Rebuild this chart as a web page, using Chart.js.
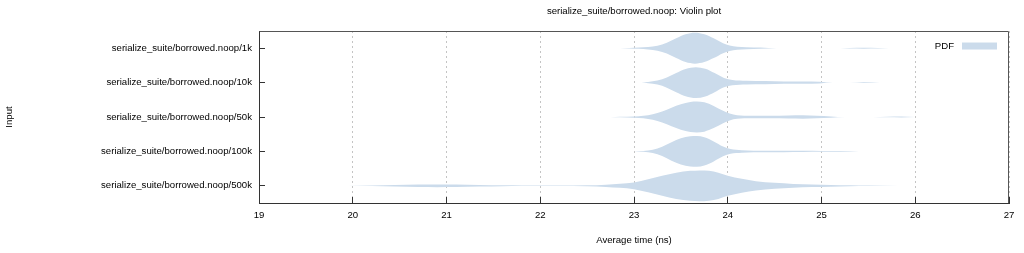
<!DOCTYPE html>
<html><head><meta charset="utf-8">
<script src="https://cdn.jsdelivr.net/npm/chart.js@4"></script>
<style>html,body{margin:0;padding:0;background:#fff}#wrap{width:1024px;height:253px}</style>
</head><body><div id="wrap"><canvas id="c" width="1024" height="253"></canvas></div>
<script>
const categories = [
  'serialize_suite/borrowed.noop/1k',
  'serialize_suite/borrowed.noop/10k',
  'serialize_suite/borrowed.noop/50k',
  'serialize_suite/borrowed.noop/100k',
  'serialize_suite/borrowed.noop/500k'
];
const xTickValues = [19, 20, 21, 22, 23, 24, 25, 26, 27];

// sample times (ns) and relative PDF (1 = widest point of each violin)
const times_1k = [22.85, 22.95, 23.05, 23.15, 23.25, 23.35, 23.45, 23.55, 23.65, 23.75, 23.85, 23.95, 24.02, 24.1, 24.2, 24.35, 24.52, 25.2, 25.3, 25.45, 25.6, 25.72];
const pdf_1k   = [0, 0.02, 0.04, 0.08, 0.16, 0.35, 0.64, 0.9, 1.0, 0.9, 0.64, 0.32, 0.18, 0.1, 0.07, 0.04, 0, 0, 0.02, 0.03, 0.02, 0];

const times_10k = [23.08, 23.15, 23.25, 23.35, 23.45, 23.55, 23.66, 23.76, 23.86, 23.96, 24.05, 24.2, 24.4, 24.6, 24.8, 24.98, 25.12, 25.3, 25.45, 25.62];
const pdf_10k   = [0, 0.04, 0.13, 0.33, 0.62, 0.88, 1.0, 0.9, 0.62, 0.3, 0.17, 0.12, 0.1, 0.08, 0.07, 0.05, 0, 0, 0.02, 0];

const times_50k = [22.75, 22.85, 23.0, 23.1, 23.2, 23.3, 23.4, 23.5, 23.6, 23.67, 23.75, 23.85, 23.95, 24.02, 24.1, 24.25, 24.45, 24.65, 24.8, 24.95, 25.1, 25.25, 25.55, 25.7, 25.85, 26.0];
const pdf_50k   = [0, 0.02, 0.04, 0.08, 0.18, 0.36, 0.6, 0.82, 0.97, 1.0, 0.95, 0.72, 0.4, 0.22, 0.12, 0.08, 0.08, 0.1, 0.11, 0.08, 0.04, 0, 0, 0.02, 0.03, 0];

const times_100k = [23.0, 23.1, 23.2, 23.3, 23.4, 23.5, 23.6, 23.67, 23.75, 23.85, 23.95, 24.03, 24.15, 24.4, 24.6, 24.8, 25.0, 25.2, 25.4];
const pdf_100k   = [0, 0.03, 0.1, 0.3, 0.6, 0.85, 0.98, 1.0, 0.92, 0.65, 0.32, 0.15, 0.08, 0.05, 0.05, 0.045, 0.03, 0.02, 0];

const times_500k = [19.95, 20.2, 20.45, 20.7, 20.9, 21.1, 21.35, 21.6, 21.8, 22.2, 22.5, 22.7, 22.85, 23.0, 23.15, 23.3, 23.45, 23.6, 23.7, 23.8, 23.9, 24.0, 24.15, 24.3, 24.5, 24.7, 24.9, 25.1, 25.3, 25.5, 25.82];
const pdf_500k   = [0, 0.02, 0.05, 0.08, 0.09, 0.08, 0.05, 0.03, 0.02, 0.02, 0.03, 0.07, 0.13, 0.22, 0.42, 0.65, 0.85, 0.97, 1.0, 0.97, 0.85, 0.65, 0.45, 0.3, 0.19, 0.12, 0.08, 0.06, 0.035, 0.02, 0];

const seriesTimes = [times_1k, times_10k, times_50k, times_100k, times_500k];
const seriesPdf = [pdf_1k, pdf_10k, pdf_50k, pdf_100k, pdf_500k];

const FILL = 'rgb(203,219,235)';
const HALF = 0.448;
const FONT = "'Liberation Sans', Arial, Helvetica, sans-serif";
const FS = 9.6;

const datasets = [];
categories.forEach((cat, i) => {
  const t = seriesTimes[i], p = seriesPdf[i];
  const common = {borderWidth: 0, pointRadius: 0, pointHoverRadius: 0, cubicInterpolationMode: 'monotone', borderColor: 'rgba(0,0,0,0)'};
  datasets.push(Object.assign({label: cat + ' (upper)', data: t.map((x, j) => ({x: x, y: i - HALF * p[j]})), fill: false}, common));
  datasets.push(Object.assign({label: cat, data: t.map((x, j) => ({x: x, y: i + HALF * p[j]})), fill: '-1', backgroundColor: FILL}, common));
});

const framePlugin = {
  id: 'frame',
  afterDraw(chart) {
    const {ctx, chartArea: a} = chart;
    ctx.save();
    ctx.strokeStyle = '#555';
    ctx.lineWidth = 1;
    ctx.beginPath();
    ctx.moveTo(Math.round(a.left) + 0.5, Math.round(a.top) + 0.5);
    ctx.lineTo(Math.round(a.right) - 0.5, Math.round(a.top) + 0.5);
    ctx.lineTo(Math.round(a.right) - 0.5, Math.round(a.bottom));
    ctx.stroke();
    // legend (inside plot, top right)
    const bx = a.right - 47, by = a.top + 11.5;
    ctx.fillStyle = FILL;
    ctx.fillRect(bx, by, 35, 7);
    ctx.fillStyle = '#000';
    ctx.font = FS + 'px ' + FONT;
    ctx.textAlign = 'right';
    ctx.textBaseline = 'middle';
    ctx.fillText('PDF', bx - 8, by + 3.5);
    ctx.restore();
  }
};

new Chart(document.getElementById('c'), {
  type: 'line',
  data: {datasets: datasets},
  plugins: [framePlugin],
  options: {
    responsive: false,
    animation: false,
    devicePixelRatio: 1,
    events: [],
    layout: {padding: {left: 0, right: 15, top: 0, bottom: 0}},
    plugins: {
      legend: {display: false},
      tooltip: {enabled: false},
      title: {
        display: true,
        text: 'serialize_suite/borrowed.noop: Violin plot',
        fullSize: false,
        color: '#000',
        font: {family: FONT, size: FS, weight: 'normal'},
        padding: {top: 5.5, bottom: 14}
      }
    },
    scales: {
      x: {
        type: 'linear',
        min: 19, max: 27,
        afterBuildTicks: s => { s.ticks = xTickValues.map(v => ({value: v})); },
        afterFit: s => { s.height = 50; s.paddingLeft = 0; s.paddingRight = 0; },
        grid: {color: '#c4c4c4', lineWidth: 1, drawTicks: true, tickLength: -6, tickColor: '#333', tickWidth: 1},
        border: {display: true, color: '#333', width: 1, dash: [2, 3]},
        ticks: {color: '#000', font: {family: FONT, size: FS}, padding: 13, maxRotation: 0, callback: v => String(v)},
        title: {display: true, text: 'Average time (ns)', color: '#000', font: {family: FONT, size: FS}, padding: {top: 0, bottom: 7}}
      },
      y: {
        type: 'linear',
        min: -0.5, max: 4.5,
        reverse: true,
        afterBuildTicks: s => { s.ticks = categories.map((c, i) => ({value: i})); },
        afterFit: s => { s.width = 259; s.paddingTop = 0; s.paddingBottom = 0; },
        grid: {drawOnChartArea: false, drawTicks: true, tickLength: -6, tickColor: '#333', tickWidth: 1},
        border: {display: true, color: '#333', width: 1},
        ticks: {color: '#000', font: {family: FONT, size: FS}, padding: 13, callback: v => categories[v]},
        title: {display: true, text: 'Input', color: '#000', font: {family: FONT, size: FS}, padding: {top: 4, bottom: 0}}
      }
    }
  }
});
</script>
</body></html>
